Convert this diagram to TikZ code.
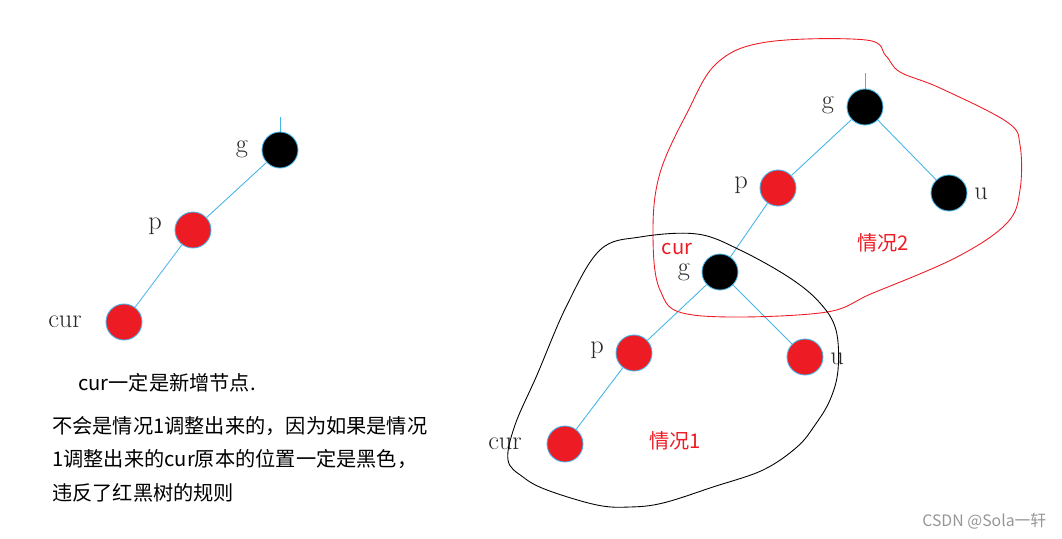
\documentclass[tikz,border=0pt]{standalone}
\usepackage{fontspec}
\newfontfamily\cjk{Noto Sans CJK SC}
\definecolor{rbred}{RGB}{237,28,36}
\definecolor{edgeblue}{RGB}{70,180,230}
\definecolor{tagblack}{RGB}{40,40,40}
\definecolor{markgray}{RGB}{150,150,150}
\usetikzlibrary{positioning}

\begin{document}
\begin{tikzpicture}[x=0.02cm,y=-0.02cm,
    every node/.style={inner sep=0pt},
    rbnode/.style={circle,draw=edgeblue,line width=0.5pt,minimum size=0.72cm},
    rnode/.style={rbnode,fill=rbred},
    bnode/.style={rbnode,fill=black},
    link/.style={draw=edgeblue,line width=0.5pt},
    tag/.style={anchor=base,text=tagblack,font=\fontsize{15}{15}\selectfont},
    note/.style={anchor=base west,font=\cjk\fontsize{11.5}{14}\selectfont},
    case/.style={anchor=base,text=rbred,font=\cjk\fontsize{11.5}{14}\selectfont}
    ]
    \useasboundingbox (0,0) rectangle (1062,538);

    % the left tree
    \node[bnode] (g1) at (280,150) {};
    \node[rnode] (p1) at (193,230) {};
    \node[rnode] (c1) at (124,322) {};
    \coordinate (r1) at (280,117);
    \node[tag] (g1l) at (242,152) {g};
    \node[tag] (p1l) at (155,229) {p};
    \node[tag] (c1l) at (65,327) {cur};

    % the tree of case 2
    \node[bnode] (g2) at (865,107) {};
    \node[rnode] (p2) at (778,188) {};
    \node[bnode] (u2) at (949,193) {};
    \coordinate (r2) at (865,73);
    \node[tag] (g2l) at (828,108) {g};
    \node[tag] (p2l) at (741,188) {p};
    \node[tag] (u2l) at (981,199) {u};
    \node[case] (k2) at (883,250) {情况2};

    % the tree of case 1
    \node[bnode] (g3) at (720,272) {};
    \node[rnode] (p3) at (634,353) {};
    \node[rnode] (u3) at (805,357) {};
    \node[rnode] (c3) at (565,444) {};
    \node[case] (c3r) at (677,254) {cur};
    \node[tag] (g3l) at (684,275) {g};
    \node[tag] (p3l) at (597,353) {p};
    \node[tag] (u3l) at (837,364) {u};
    \node[tag] (c3l) at (505,449) {cur};
    \node[case] (k1) at (675,448) {情况1};

    % the edges
    \draw[link] (r1) -- (g1);
    \draw[link] (g1) -- (p1);
    \draw[link] (p1) -- (c1);
    \draw[link] (r2) -- (g2);
    \draw[link] (g2) -- (p2);
    \draw[link] (g2) -- (u2);
    \draw[link] (p2) -- (g3);
    \draw[link] (g3) -- (p3);
    \draw[link] (g3) -- (u3);
    \draw[link] (p3) -- (c3);

    % the regions
    \draw[rbred,line width=0.5pt] plot[smooth cycle,tension=0.6] coordinates {
      (717,63) (767,42) (866,40) (886,56) (900,72) (940,88) (1007,122)
      (1020,145) (1020,190) (1007,223) (957,257) (873,293) (820,313)
      (693,315) (660,290) (653,230) (660,173) (687,113)};
    \draw[black,line width=0.5pt] plot[smooth cycle,tension=0.6] coordinates {
      (600,250) (640,237) (697,234) (740,250) (790,278) (820,303) (836,330)
      (838,370) (830,400) (815,425) (797,447) (763,470) (713,487) (663,503)
      (630,507) (597,505) (547,490) (523,477) (508,460) (515,425) (537,375)
      (567,305)};

    % the notes
    \node[note] (n0) at (78,390) {cur一定是新增节点.};
    \node[note] (n1) at (52,433) {不会是情况1调整出来的，因为如果是情况};
    \node[note] (n2) at (52,466) {1调整出来的cur原本的位置一定是黑色，};
    \node[note] (n3) at (52,500) {违反了红黑树的规则};
    \node[anchor=base west,text=markgray,font=\cjk\fontsize{9}{10}\selectfont] (wm) at (922,526) {CSDN @Sola一轩};
\end{tikzpicture}
\end{document}
